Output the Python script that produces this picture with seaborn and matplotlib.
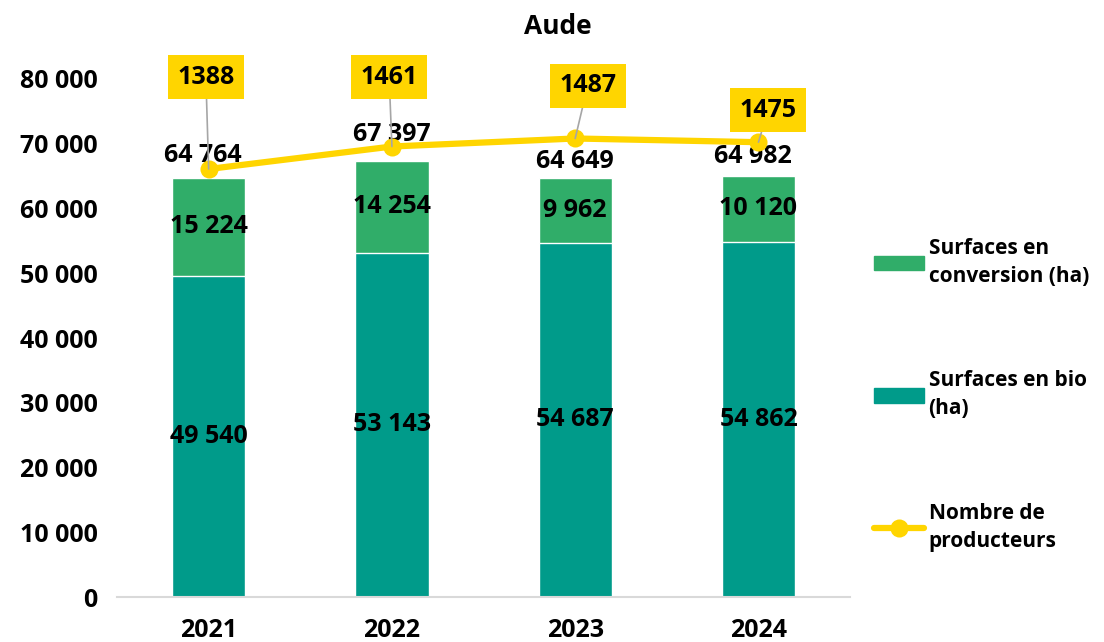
import numpy as np
import pandas as pd
import matplotlib.pyplot as plt
import seaborn as sns
from matplotlib.patches import Patch
from matplotlib.lines import Line2D

# Data
years = ['2021', '2022', '2023', '2024']
surf_bio = [49540, 53143, 54687, 54862]
surf_conv = [15224, 14254, 9962, 10120]
producteurs = [1388, 1461, 1487, 1475]

green = '#30AD69'
teal = '#009B8A'
yellow = '#FFD500'

df = pd.DataFrame({'annee': years, 'bio': surf_bio, 'conv': surf_conv, 'prod': producteurs})
df['total'] = df['bio'] + df['conv']

sns.set_style('white')
plt.rcParams['font.family'] = ['Open Sans', 'DejaVu Sans']
plt.rcParams['font.weight'] = 'bold'
plt.rcParams['text.color'] = 'black'
plt.rcParams['xtick.color'] = 'black'
plt.rcParams['ytick.color'] = 'black'
fs = 18

def fmt(v):
    return f'{int(v):,}'.replace(',', ' ')

fig = plt.figure(figsize=(11.04, 6.42), dpi=100)
ax = fig.add_axes([0.106, 0.070, 0.664, 0.807])

# Stacked bars: total in green, bio drawn on top
sns.barplot(data=df, x='annee', y='total', color=green, width=0.4, saturation=1, ax=ax)
sns.barplot(data=df, x='annee', y='bio', color=teal, width=0.4, saturation=1, ax=ax)

# label offsets for the totals (points), as placed in the original
total_offsets = [(-4, 16), (0, 19), (0, 12), (-4, 14)]
for i, row in df.iterrows():
    ax.text(i, row['bio'] / 2, fmt(row['bio']), ha='center', va='center', fontsize=fs, fontweight='bold')
    ax.text(i, row['bio'] + row['conv'] / 2, fmt(row['conv']), ha='center', va='center', fontsize=fs, fontweight='bold')
    ax.annotate(fmt(row['total']), xy=(i, row['total']), xytext=total_offsets[i], textcoords='offset points',
                ha='center', va='center', fontsize=fs, fontweight='bold')

ax.set_ylim(0, 80000)
ax.set_yticks(range(0, 80001, 10000))
ax.set_yticklabels([fmt(v) for v in range(0, 80001, 10000)], fontsize=fs, fontweight='bold')
ax.set_xticks(range(len(years)))
ax.set_xticklabels(years, fontsize=fs, fontweight='bold')
ax.tick_params(axis='y', length=0, pad=14)
ax.tick_params(axis='x', length=0, pad=15)
ax.set_xlabel('')
ax.set_ylabel('')
sns.despine(ax=ax, left=True)
ax.spines['bottom'].set_color('#D9D9D9')
ax.spines['bottom'].set_linewidth(1.5)

# Producers on hidden secondary axis
ax2 = ax.twinx()
sns.lineplot(x=np.arange(len(years)), y=df['prod'], color=yellow, linewidth=4.5, marker='o',
             markersize=13, markeredgewidth=0, ax=ax2)
ax2.set_ylim(0, 1680)
ax2.axis('off')
ax.set_xlim(-0.5, len(years) - 0.5)

box_offsets = [(-2, 66), (-2, 50), (9, 38), (7, 23)]
for i, (v, off) in enumerate(zip(producteurs, box_offsets)):
    ax2.annotate(str(v), xy=(i, v), xytext=off, textcoords='offset points', ha='center', va='center',
                 fontsize=fs, fontweight='bold',
                 bbox=dict(boxstyle='square,pad=0.38', fc=yellow, ec='none'),
                 arrowprops=dict(arrowstyle='-', color='#A6A6A6', lw=1.2, shrinkA=0, shrinkB=0))

fig.text(0.505, 0.958, 'Aude', ha='center', va='center', fontsize=19, fontweight='bold')

handles = [Patch(color=green), Patch(color=teal),
           Line2D([0], [0], color=yellow, lw=4.5, marker='o', markersize=13, markeredgewidth=0)]
labels = ['Surfaces en\nconversion (ha)', 'Surfaces en bio\n(ha)', 'Nombre de\nproducteurs']
leg = fig.legend(handles, labels, loc='center left', bbox_to_anchor=(0.775, 0.385), frameon=False,
                 prop={'size': 15, 'weight': 'bold'}, labelspacing=4.0, handlelength=2.4,
                 handletextpad=0.2, alignment='left')
for t in leg.get_texts():
    t.set_linespacing(1.45)

fig.savefig('out.png', dpi=100)
